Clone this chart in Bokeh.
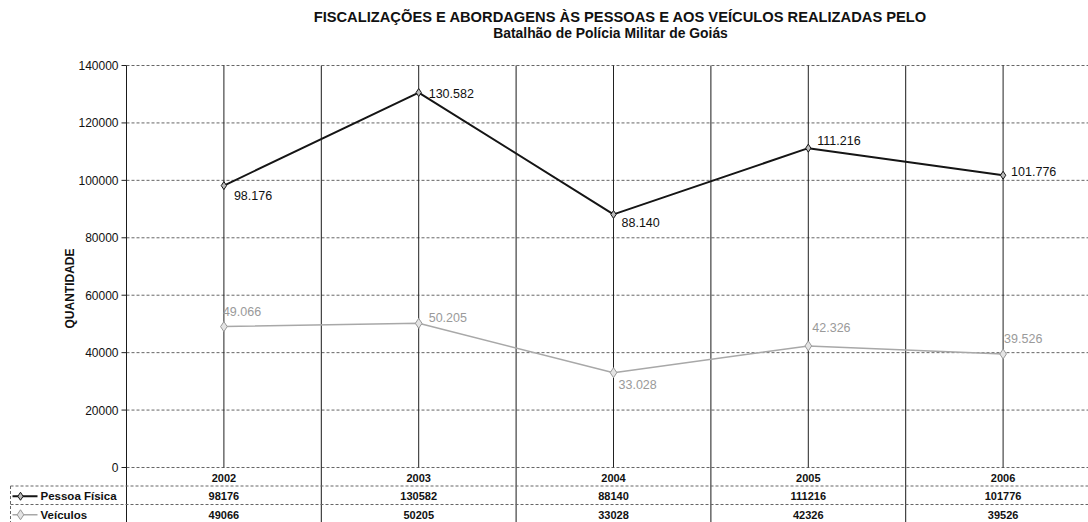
import math
from bokeh.plotting import figure
from bokeh.models import Range1d
from bokeh.core.properties import value
from bokeh.embed import file_html
from bokeh.resources import INLINE

# ---------------- data ----------------
years = ["2002", "2003", "2004", "2005", "2006"]
pessoa_fisica = [98176, 130582, 88140, 111216, 101776]
veiculos = [49066, 50205, 33028, 42326, 39526]
y_ticks = [0, 20000, 40000, 60000, 80000, 100000, 120000, 140000]
series_names = ["Pessoa Física", "Veículos"]
title_text = "FISCALIZAÇÕES E ABORDAGENS ÀS PESSOAS E AOS VEÍCULOS REALIZADAS PELO"
subtitle_text = "Batalhão de Polícia Militar de Goiás"
y_label = "QUANTIDADE"

# ---------------- layout helpers (canvas pixels -> data units) ----------------
W, H = 1088, 522
X0 = 126.0          # left edge of plot area (value axis)
CAT_W = 194.8       # width of one category
Y0 = 467.0          # pixel row of value 0
PX_PER_UNIT = 402.0 / 140000.0
FONT = value("Liberation Sans")


def u(px):
    return (px - X0) / CAT_W


def v(py):
    return (Y0 - py) / PX_PER_UNIT


def fmt_br(n):
    return f"{n:,}".replace(",", ".")


p = figure(width=W, height=H,
           x_range=Range1d(u(0), u(W)), y_range=Range1d(v(H), v(0)),
           output_backend="svg", toolbar_location=None,
           x_axis_type=None, y_axis_type=None, min_border=0)
p.grid.visible = False
p.outline_line_color = None
p.background_fill_color = "white"
p.border_fill_color = "white"

xs = [i + 0.5 for i in range(len(years))]
x_end = u(W)
table_bottom = v(H)

# ---------------- title ----------------
p.text(x=[u(620)], y=[v(16)], text=[title_text], text_font=FONT, text_font_size="14.7px",
       text_font_style="bold", text_align="center", text_baseline="middle", text_color="#111111")
p.text(x=[u(610)], y=[v(32)], text=[subtitle_text], text_font=FONT, text_font_size="13.9px",
       text_font_style="bold", text_align="center", text_baseline="middle", text_color="#111111")

# ---------------- grid ----------------
p.segment(x0=[0] * len(y_ticks), y0=y_ticks, x1=[x_end] * len(y_ticks), y1=y_ticks,
          line_color="#666666", line_width=1, line_dash="3 2")
p.segment(x0=xs, y0=[0] * len(xs), x1=xs, y1=[max(y_ticks)] * len(xs),
          line_color="#222222", line_width=1)
bounds = list(range(0, len(years)))
p.segment(x0=bounds, y0=[table_bottom] * len(bounds), x1=bounds, y1=[max(y_ticks)] * len(bounds),
          line_color="#1a1a1a", line_width=1)

# ---------------- value axis ----------------
p.segment(x0=[u(121)] * len(y_ticks), y0=y_ticks, x1=[0] * len(y_ticks), y1=y_ticks,
          line_color="#222222", line_width=1)
p.text(x=[u(118)] * len(y_ticks), y=y_ticks, text=[str(t) for t in y_ticks],
       text_font=FONT, text_font_size="12px", text_align="right", text_baseline="middle",
       text_color="#111111")
p.text(x=[u(69)], y=[v(288)], text=[y_label], angle=math.pi / 2, text_font=FONT,
       text_font_size="12px", text_font_style="bold", text_align="center",
       text_baseline="middle", text_color="#111111")

# ---------------- series ----------------
p.line(xs, veiculos, line_color="#a8a8a8", line_width=1.5)
p.scatter(xs, veiculos, marker="diamond", size=10, line_color="#999999", fill_color="#e4e4e4")
p.line(xs, pessoa_fisica, line_color="#151515", line_width=2)
p.scatter(xs, pessoa_fisica, marker="diamond", size=8, line_color="#151515", fill_color="#bbbbbb")

pf_dx = [10, 10, 8, 9, 8]
pf_dy = [10, 1, 8, -8, -4]
ve_dx = [-1, 10, 5, 4, 1]
ve_dy = [-15, -6, 12, -18, -16]
p.text(x=[x + dx / CAT_W for x, dx in zip(xs, pf_dx)],
       y=[val - dy / PX_PER_UNIT for val, dy in zip(pessoa_fisica, pf_dy)],
       text=[fmt_br(n) for n in pessoa_fisica], text_font=FONT, text_font_size="12.5px",
       text_align="left", text_baseline="middle", text_color="#111111")
p.text(x=[x + dx / CAT_W for x, dx in zip(xs, ve_dx)],
       y=[val - dy / PX_PER_UNIT for val, dy in zip(veiculos, ve_dy)],
       text=[fmt_br(n) for n in veiculos], text_font=FONT, text_font_size="12.5px",
       text_align="left", text_baseline="middle", text_color="#9a9a9a")

# ---------------- data table ----------------
ROW_H = 18.5
row_tops = [Y0, Y0 + ROW_H, Y0 + 2 * ROW_H]
row_mid = [v(t + ROW_H / 2 + 1) for t in row_tops]
sep_y = [v(row_tops[1]), v(row_tops[2])]
p.segment(x0=[u(10)] * 2, y0=sep_y, x1=[x_end] * 2, y1=sep_y,
          line_color="#666666", line_width=1, line_dash="3 2")
p.segment(x0=[u(10)], y0=[sep_y[0]], x1=[u(10)], y1=[table_bottom],
          line_color="#666666", line_width=1, line_dash="3 2")

p.text(x=xs, y=[row_mid[0]] * len(xs), text=years, text_font=FONT, text_font_size="11px",
       text_font_style="bold", text_align="center", text_baseline="middle", text_color="#111111")
p.text(x=xs, y=[row_mid[1]] * len(xs), text=[str(n) for n in pessoa_fisica], text_font=FONT,
       text_font_size="11px", text_font_style="bold", text_align="center",
       text_baseline="middle", text_color="#111111")
p.text(x=xs, y=[row_mid[2]] * len(xs), text=[str(n) for n in veiculos], text_font=FONT,
       text_font_size="11px", text_font_style="bold", text_align="center",
       text_baseline="middle", text_color="#111111")

key_y = [row_mid[1], row_mid[2]]
p.segment(x0=[u(12)] * 2, y0=key_y, x1=[u(37)] * 2, y1=key_y,
          line_color=["#151515", "#a8a8a8"], line_width=[2, 1.5])
p.scatter([u(20)] * 2, key_y, marker="diamond", size=[8, 10],
          line_color=["#151515", "#999999"], fill_color=["#bbbbbb", "#e4e4e4"])
p.text(x=[u(40)] * 2, y=key_y, text=series_names, text_font=FONT, text_font_size="11.5px",
       text_font_style="bold", text_align="left", text_baseline="middle", text_color="#111111")

open("out.html", "w").write(file_html(p, INLINE))
